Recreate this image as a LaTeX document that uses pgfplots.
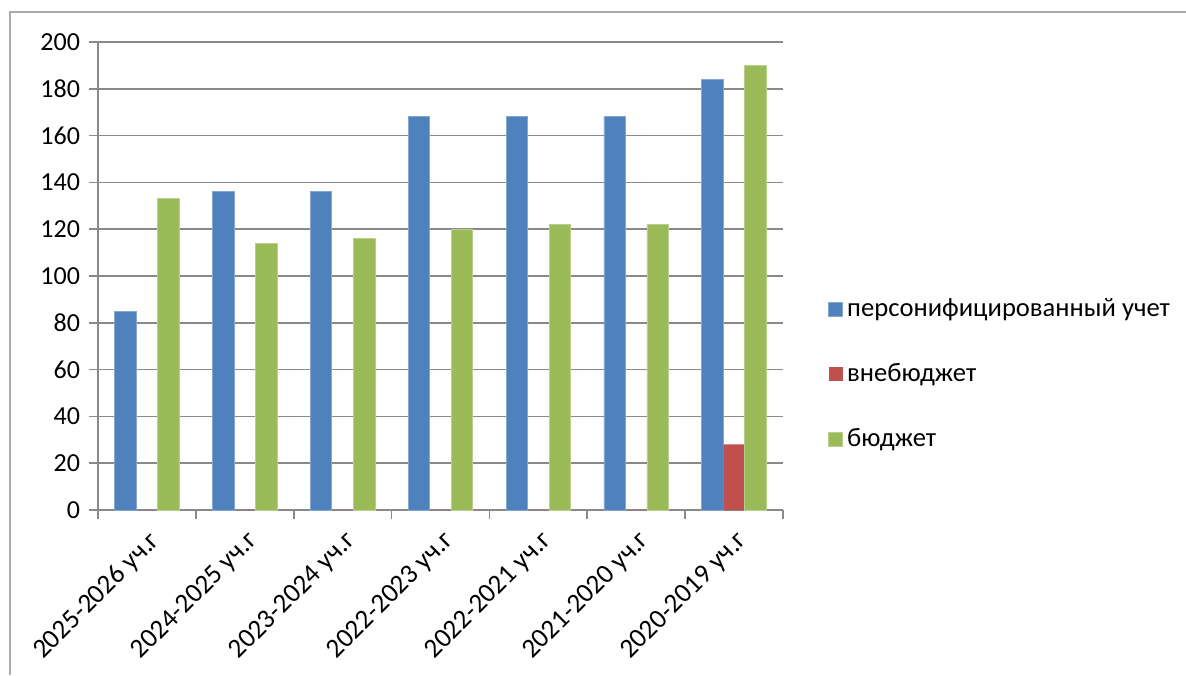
\documentclass[border=0pt]{standalone}
\usepackage{fontspec}
\setmainfont{Carlito}
\usepackage{pgfplots}
\pgfplotsset{compat=1.18}
\definecolor{cblue}{HTML}{4F81BD}
\definecolor{cred}{HTML}{C0504D}
\definecolor{cgreen}{HTML}{9BBB59}
\definecolor{cgrid}{HTML}{898989}
\begin{document}
\begin{tikzpicture}
% page = 1186 x 675 px of the reference, 1 px = 0.5 pt
\path[use as bounding box] (0pt,0pt) rectangle (593pt,337.5pt);
\draw[cgrid!70, line width=0.9pt] (5pt,0pt) -- (5pt,331.5pt) -- (593pt,331.5pt);
\begin{axis}[
  at={(49pt,82.5pt)}, anchor=south west,
  scale only axis, width=342.5pt, height=234pt,
  xmin=-0.5, xmax=6.5, ymin=0, ymax=200,
  ytick={0,20,...,200},
  xtick={0,...,6},
  xticklabels={2025-2026 уч.г,2024-2025 уч.г,2023-2024 уч.г,2022-2023 уч.г,2022-2021 уч.г,2021-2020 уч.г,2020-2019 уч.г},
  minor xtick={-0.5,0.5,...,6.5},
  major x tick style={draw=none},
  minor tick length=4.5pt, major tick length=4.5pt,
  tick align=outside,
  axis x line*=bottom, axis y line*=left,
  axis line style={cgrid, line width=0.8pt},
  every tick/.style={cgrid, line width=0.8pt},
  ymajorgrids, grid style={cgrid, line width=0.8pt},
  font=\fontsize{13}{15}\selectfont,
  /pgf/number format/assume math mode=true,
  yticklabel style={xshift=-1pt},
  xticklabel style={rotate=45, anchor=east, xshift=0.1pt, yshift=-9.6pt,
    font=\fontsize{13.6}{15}\selectfont},
  bar width=0.22, ybar=0pt,
  legend style={at={(1.057,0.29)}, anchor=west, draw=none, fill=none,
    row sep=18pt, font=\fontsize{13.3}{15}\selectfont},
  legend cell align=left,
  legend image code/.code={\fill[#1] (0pt,-3.6pt) rectangle (7pt,3.6pt);},
]
\addplot[fill=cblue, draw=cblue!70!white, bar shift=-0.22] coordinates {(0,85) (1,136) (2,136) (3,168) (4,168) (5,168) (6,184)};
\addlegendentry{персонифицированный учет}
\addplot[fill=cred, draw=none, bar shift=0] coordinates {(0,0) (1,0) (2,0) (3,0) (4,0) (5,0) (6,28)};
\addlegendentry{внебюджет}
\addplot[fill=cgreen, draw=cgreen!70!white, bar shift=0.22] coordinates {(0,133) (1,114) (2,116) (3,120) (4,122) (5,122) (6,190)};
\addlegendentry{бюджет}
\end{axis}
\end{tikzpicture}
\end{document}
